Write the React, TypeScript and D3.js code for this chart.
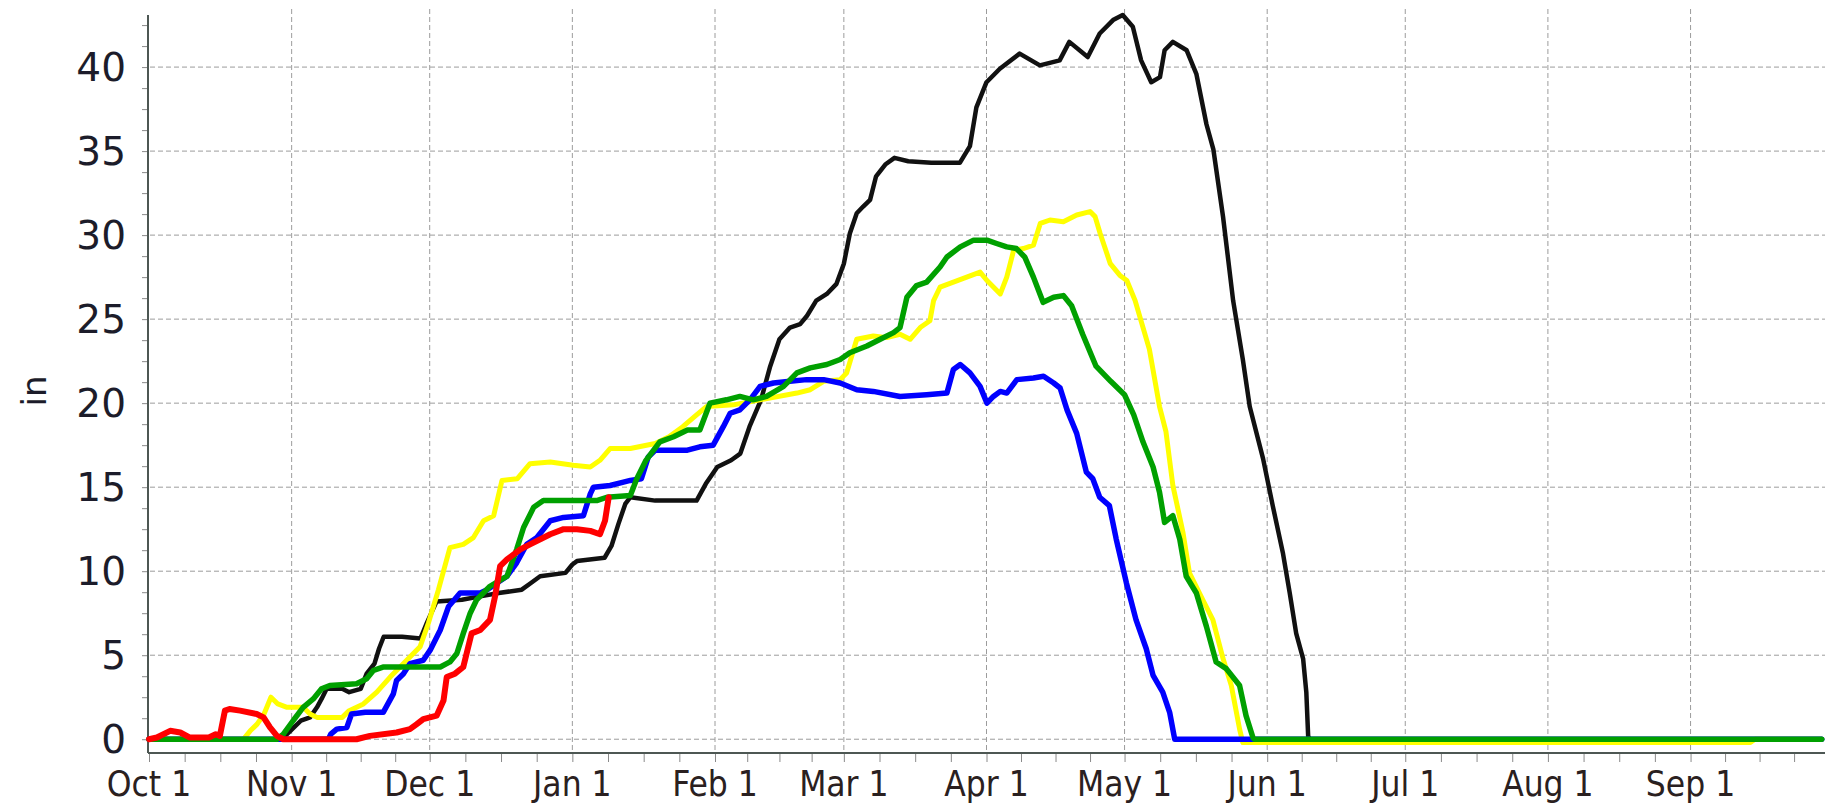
import React, { useEffect, useRef } from 'react';
import * as d3 from 'd3';

// [days since Oct 1, depth in inches]
type Pt = [number, number];

const seasonStart = Date.UTC(2020, 9, 1);
const seasonEnd = Date.UTC(2021, 8, 30);

const yLabels = [0, 5, 10, 15, 20, 25, 30, 35, 40];

const blackSeries: Pt[] = [
  [0, 0], [28.5, 0], [30, 0.3], [31.5, 0.7], [33, 1.1], [35, 1.3], [36.5, 1.9], [37.5, 2.4], [38.6, 3.0],
  [42, 3.0], [43.5, 2.8], [46, 3.0], [47.3, 3.9], [49, 4.5], [50, 5.4], [51, 6.1], [55, 6.1], [59, 6.0],
  [60.5, 7.0], [62.5, 8.2], [68, 8.3], [72, 8.5], [76, 8.7], [81, 8.9], [83, 9.3], [85, 9.7], [90.5, 9.9],
  [92, 10.4], [93, 10.6], [99, 10.8], [100.5, 11.5], [102, 12.8], [103.5, 14.0], [104.6, 14.4], [110, 14.2],
  [119, 14.2], [121, 15.2], [123.5, 16.2], [126.5, 16.6], [128.5, 17.0], [130.5, 18.6], [133, 20.2],
  [135, 22.2], [137, 23.8], [139.3, 24.5], [141.5, 24.7], [143, 25.2], [145, 26.1], [147.3, 26.5],
  [149.4, 27.1], [151, 28.3], [152.3, 30.1], [153.8, 31.3], [155.2, 31.7], [156.7, 32.1], [158, 33.5],
  [160, 34.2], [162, 34.6], [165, 34.4], [170, 34.3], [174, 34.3], [176.2, 34.3], [178.4, 35.3],
  [179.8, 37.6], [182, 39.1], [184.9, 39.9], [189.2, 40.8], [193.6, 40.1], [197.9, 40.4], [200, 41.5],
  [204, 40.6], [206.6, 42.0], [209.5, 42.8], [211.6, 43.1], [213.8, 42.4], [215.6, 40.4], [217.8, 39.1],
  [219.7, 39.4], [220.7, 41.0], [222.5, 41.5], [225.5, 41.0], [227.6, 39.6], [229.8, 36.6], [231.3, 35.1],
  [233.4, 31.1], [235.6, 26.1], [237.7, 22.6], [239.2, 19.8], [242.1, 16.7], [244.2, 13.9], [246.4, 11.1],
  [247.9, 8.7], [249.3, 6.3], [250.8, 4.8], [251.5, 2.8], [251.9, 0.2], [252.2, 0], [363.5, 0],
];

const yellowSeries: Pt[] = [
  [0, 0], [20.5, 0], [22, 0.5], [23.5, 0.9], [25, 1.5], [26.5, 2.5], [28, 2.1], [30, 1.9], [33.5, 1.9],
  [35, 1.5], [36.5, 1.3], [42, 1.3], [43.5, 1.7], [46.6, 2.1], [49.5, 2.8], [52.4, 3.7], [55.3, 4.5],
  [58.9, 5.5], [60.7, 6.9], [62.9, 8.9], [65.4, 11.4], [68.3, 11.6], [70.5, 12.0], [72.7, 13.0],
  [74.9, 13.3], [76.7, 15.4], [80, 15.5], [82.8, 16.4], [87.2, 16.5], [92.2, 16.3], [95.9, 16.2],
  [98, 16.6], [100.2, 17.3], [104.6, 17.3], [110, 17.6], [113, 18.0], [116, 18.6], [119, 19.3],
  [121.2, 19.8], [127, 19.9], [132.8, 20.2], [140.8, 20.6], [143.7, 20.8], [146.6, 21.3], [150.2, 21.4],
  [151.6, 21.8], [153.8, 23.8], [157.4, 24.0], [160.3, 23.9], [163.2, 24.1], [165.4, 23.8], [167.6, 24.5],
  [169.7, 24.9], [170.5, 26.1], [171.9, 26.9], [174.8, 27.2], [177.7, 27.5], [180.6, 27.8], [182.1, 27.3],
  [185, 26.5], [186.4, 27.5], [187.9, 29.1], [190, 29.2], [192.2, 29.4], [193.7, 30.7], [195.8, 30.9],
  [198.7, 30.8], [201.6, 31.2], [204.5, 31.4], [205.6, 31.1], [206.7, 30.1], [208.9, 28.3], [211, 27.6],
  [212.5, 27.3], [214.3, 26.1], [217.4, 23.2], [219.6, 19.8], [221, 18.3], [222.5, 15.1], [224.7, 12.3],
  [226.1, 9.9], [229, 8.3], [231.2, 7.1], [233.4, 4.8], [235.2, 3.2], [237, 0.6], [237.7, -0.2],
  [348, -0.2], [349, 0], [363.5, 0],
];

const blueSeries: Pt[] = [
  [0, 0], [39, 0], [39.5, 0.3], [40.8, 0.6], [43, 0.7], [44, 1.5], [47, 1.6], [50.9, 1.6], [53.1, 2.7],
  [53.8, 3.5], [55.3, 3.9], [56.7, 4.5], [59.6, 4.7], [61.1, 5.3], [63.3, 6.5], [65.1, 7.9], [67.6, 8.7],
  [72, 8.7], [73.5, 8.9], [75.6, 9.3], [77.8, 9.7], [79.9, 10.5], [82.1, 11.6], [84.3, 12.0], [87.2, 13.0],
  [90.1, 13.2], [94.4, 13.3], [95.9, 14.6], [96.6, 15.0], [100.2, 15.1], [103.1, 15.3], [104.6, 15.4],
  [107, 15.5], [108.5, 16.8], [110, 17.2], [117, 17.2], [119.7, 17.4], [122.6, 17.5], [124.8, 18.6],
  [126.3, 19.4], [128.4, 19.6], [130.6, 20.2], [132.8, 21.0], [135.7, 21.2], [139.3, 21.3], [142.9, 21.4],
  [146.6, 21.4], [150.2, 21.2], [153.8, 20.8], [157.4, 20.7], [163.2, 20.4], [169, 20.5], [173.4, 20.6],
  [174.8, 22.0], [176.3, 22.3], [178.4, 21.8], [180.6, 21.0], [182.1, 20.0], [183.5, 20.4], [185, 20.7],
  [186.4, 20.6], [188.6, 21.4], [192.2, 21.5], [194.4, 21.6], [196.6, 21.2], [198, 20.9], [199.5, 19.6],
  [201.6, 18.2], [203.7, 15.9], [205.1, 15.5], [206.6, 14.4], [208.7, 13.9], [210.2, 11.9], [212.4, 9.3],
  [214.5, 7.1], [216.7, 5.4], [218.2, 3.8], [220.3, 2.8], [221.8, 1.6], [222.9, 0], [363.5, 0],
];

const greenSeries: Pt[] = [
  [0, 0], [27.8, 0], [29.2, 0.3], [31.3, 1.1], [33.5, 1.9], [35.7, 2.4], [37.5, 3.0], [39.3, 3.2],
  [45.1, 3.3], [47.3, 3.6], [48.8, 4.1], [51, 4.3], [63.3, 4.3], [65.4, 4.6], [66.9, 5.1], [68.3, 6.3],
  [69.8, 7.5], [71.2, 8.3], [74.1, 9.1], [77.8, 9.7], [79.9, 11.3], [81.4, 12.6], [83.6, 13.8], [85.7, 14.2],
  [97.3, 14.2], [99.5, 14.4], [104.6, 14.5], [106, 15.5], [108, 16.6], [111, 17.7], [114, 18.0],
  [117, 18.4], [119.7, 18.4], [121.9, 20.0], [125.5, 20.2], [128.4, 20.4], [131.3, 20.2], [134.2, 20.4],
  [137.9, 21.0], [140.8, 21.8], [143.7, 22.1], [147.3, 22.3], [150.2, 22.6], [152.3, 23.0], [156, 23.4],
  [158.9, 23.8], [161.8, 24.2], [163.2, 24.5], [164.7, 26.3], [166.8, 27.0], [169, 27.2], [171.9, 28.1],
  [173.4, 28.7], [176.3, 29.3], [179.2, 29.7], [182.1, 29.7], [184.2, 29.5], [186.4, 29.3], [188.5, 29.2],
  [190.3, 28.7], [192.2, 27.5], [194.3, 26.0], [196.6, 26.3], [198.7, 26.4], [200.5, 25.8], [202.9, 24.1],
  [205.8, 22.2], [209, 21.3], [212, 20.5], [214, 19.3], [216, 17.7], [218.2, 16.2], [219.6, 14.7],
  [220.7, 12.9], [222.5, 13.3], [224, 11.9], [225.4, 9.7], [227.6, 8.7], [229.8, 6.7], [231.9, 4.6],
  [234.1, 4.2], [237, 3.2], [238.4, 1.4], [239.9, 0.1], [240.2, 0], [363.5, 0],
];

const redSeries: Pt[] = [
  [0, 0], [1.7, 0.1], [4.6, 0.5], [6.8, 0.4], [8.9, 0.1], [13, 0.1], [14.5, 0.3], [15.4, 0.2], [16.5, 1.7],
  [17.5, 1.8], [19.8, 1.7], [23.4, 1.5], [24.9, 1.3], [26.3, 0.7], [27.8, 0.2], [29.2, 0], [45.1, 0],
  [48, 0.2], [53.8, 0.4], [56.7, 0.6], [58.2, 0.9], [59.6, 1.2], [62.5, 1.4], [64, 2.3], [64.7, 3.7],
  [66.5, 3.9], [68.3, 4.3], [70.1, 6.3], [72, 6.5], [74.1, 7.1], [75.2, 8.5], [76.3, 10.3], [77.8, 10.7],
  [80.7, 11.3], [82.8, 11.6], [87.2, 12.2], [90.1, 12.5], [93, 12.5], [95.9, 12.4], [98, 12.2],
  [99.1, 13.0], [99.9, 14.4],
];

// drawing order: first is at the bottom
const lines = [
  { data: blackSeries, color: '#111111', width: 4.5 },
  { data: yellowSeries, color: '#ffff00', width: 5 },
  { data: blueSeries, color: '#0000ff', width: 5.5 },
  { data: greenSeries, color: '#00a000', width: 5.5 },
  { data: redSeries, color: '#ff0000', width: 6 },
];

const App: React.FC = () => {
  const chartRef = useRef<SVGSVGElement | null>(null);

  useEffect(() => {
    if (!chartRef.current) return;
    const svg = d3.select(chartRef.current);
    svg.selectAll('*').remove();

    const width = 1825;
    const height = 807;
    svg.attr('width', width).attr('height', height);

    const x = d3.scaleUtc()
      .domain([new Date(seasonStart), new Date(seasonEnd)])
      .range([149, 1824]);

    const y = d3.scaleLinear()
      .domain([-0.82, 43.1])
      .range([753, 15]);

    const months = d3.utcMonth.range(new Date(seasonStart), new Date(seasonEnd));
    const dayToDate = (d: number) => new Date(seasonStart + d * 864e5);

    // grid
    const grid = svg.append('g')
      .attr('stroke', '#9c9c9c')
      .attr('stroke-width', 1)
      .attr('stroke-dasharray', '5,3');

    grid.selectAll('.hgrid')
      .data(yLabels)
      .enter().append('line')
      .attr('x1', 150)
      .attr('x2', width)
      .attr('y1', d => y(d))
      .attr('y2', d => y(d));

    grid.selectAll('.vgrid')
      .data(months.slice(1))
      .enter().append('line')
      .attr('x1', d => x(d))
      .attr('x2', d => x(d))
      .attr('y1', 9)
      .attr('y2', 752);

    // minor ticks on x: quarter months
    const xTicks: Date[] = [];
    months.forEach(m => {
      const next = d3.utcMonth.offset(m, 1).getTime();
      for (let k = 0; k < 4; k++) xTicks.push(new Date(m.getTime() + (k * (next - m.getTime())) / 4));
    });

    const xAxis = svg.append('g')
      .attr('transform', `translate(0,753)`)
      .call(d3.axisBottom(x).tickValues(xTicks).tickSize(8).tickSizeOuter(0).tickFormat(() => ''));
    xAxis.select('.domain').remove();
    xAxis.selectAll('.tick line').attr('stroke', '#8a8a8a').attr('transform', 'translate(0,1)');

    const yAxis = svg.append('g')
      .attr('transform', `translate(148,0)`)
      .call(d3.axisLeft(y).tickValues(d3.range(0, 43, 1.25)).tickSize(6).tickSizeOuter(0).tickFormat(() => ''));
    yAxis.select('.domain').remove();
    yAxis.selectAll('.tick line').attr('stroke', '#8a8a8a');

    svg.append('line')
      .attr('x1', 148).attr('x2', 148)
      .attr('y1', 15).attr('y2', 753)
      .attr('stroke', '#4d5753').attr('stroke-width', 2);

    svg.append('line')
      .attr('x1', 148).attr('x2', width)
      .attr('y1', 753).attr('y2', 753)
      .attr('stroke', '#4d5753').attr('stroke-width', 2);

    // series
    const line = d3.line<Pt>()
      .x(d => x(dayToDate(d[0])))
      .y(d => y(d[1]));

    lines.forEach(s => {
      svg.append('path')
        .datum(s.data)
        .attr('fill', 'none')
        .attr('stroke', s.color)
        .attr('stroke-width', s.width)
        .attr('stroke-linejoin', 'round')
        .attr('stroke-linecap', 'round')
        .attr('d', line);
    });

    // labels
    svg.selectAll('.ylabel')
      .data(yLabels)
      .enter().append('text')
      .attr('x', 126)
      .attr('y', d => y(d) + 14)
      .attr('text-anchor', 'end')
      .attr('font-family', '"DejaVu Sans", Verdana, sans-serif')
      .attr('font-size', 39)
      .attr('fill', '#1c1c2a')
      .text(d => d);

    svg.selectAll('.xlabel')
      .data(months)
      .enter().append('text')
      .attr('x', d => x(d))
      .attr('y', 796)
      .attr('text-anchor', 'middle')
      .attr('font-family', '"DejaVu Sans Condensed", "DejaVu Sans", sans-serif')
      .attr('font-stretch', 'condensed')
      .attr('font-size', 35)
      .attr('fill', '#2a2020')
      .text(d => d3.utcFormat('%b %-d')(d));

    svg.append('text')
      .attr('transform', 'translate(46,391) rotate(-90)')
      .attr('text-anchor', 'middle')
      .attr('font-family', '"DejaVu Sans", Verdana, sans-serif')
      .attr('font-size', 34)
      .attr('fill', '#1c1c2a')
      .text('in');
  }, []);

  return (
    <svg
      ref={chartRef}
      style={{ position: 'absolute', left: 0, top: 0, display: 'block', background: '#fff' }}
    />
  );
};

export default App;
